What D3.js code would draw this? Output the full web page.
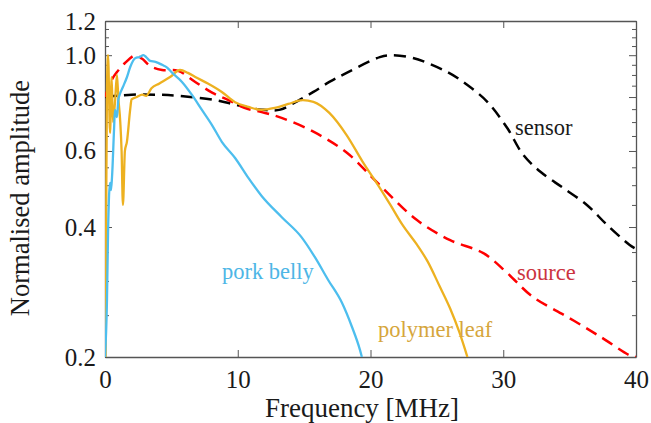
<!DOCTYPE html>
<html>
<head>
<meta charset="utf-8">
<script src="https://cdn.jsdelivr.net/npm/d3@7"></script>
<style>
  html, body { margin: 0; padding: 0; background: #fff; }
  svg { display: block; }
</style>
</head>
<body>
<svg id="chart" width="651" height="423"></svg>
<script>
// ---- data ----
const xTicks = [0, 10, 20, 30, 40];
const yTicks = [0.2, 0.4, 0.6, 0.8, 1.0, 1.2];
const yTickLabels = ["0.2", "0.4", "0.6", "0.8", "1.0", "1.2"];
const yMinorTicks = [0.25, 0.3, 0.35, 0.45, 0.5, 0.55, 0.65, 0.7, 0.75, 0.85, 0.9, 0.95, 1.05, 1.1, 1.15];

const sensorF = [0, 2, 4, 5.6, 8.3, 10.0, 11.8, 13.2, 14.5, 15.7, 16.9, 18.2, 20.7, 21.5, 23.2, 25.8, 27.3, 28.8, 30.3, 31.5, 32.8, 34.5, 36.3, 37.8, 39.5, 40];
const sensorA = [0.80, 0.81, 0.81, 0.805, 0.787, 0.766, 0.748, 0.748, 0.783, 0.822, 0.867, 0.910, 0.990, 1.0, 0.985, 0.914, 0.853, 0.78, 0.678, 0.588, 0.537, 0.493, 0.45, 0.405, 0.364, 0.356];

const sourceF = [0, 0.5, 0.9, 1.5, 2.3, 2.8, 3.4, 4.3, 5.5, 6.8, 8.1, 9.3, 10.5, 11.8, 13.3, 15.7, 18.2, 20.7, 23.5, 26.0, 28.5, 30.3, 32.2, 34.8, 37.3, 39.5, 40];
const sourceA = [0.80, 0.876, 0.914, 0.959, 1.0, 0.981, 0.944, 0.924, 0.920, 0.867, 0.818, 0.787, 0.755, 0.738, 0.716, 0.665, 0.595, 0.50, 0.415, 0.373, 0.348, 0.313, 0.276, 0.248, 0.223, 0.202, 0.2];

const porkF = [0, 0.15, 0.23, 0.38, 0.45, 0.53, 0.68, 0.75, 0.9, 1.0, 1.1, 1.35, 1.65, 1.9, 2.3, 2.6, 2.9, 3.1, 3.4, 3.8, 4.3, 4.7, 5.0, 5.8, 6.55, 7.3, 8.06, 8.8, 9.8, 10.8, 11.8, 13.3, 14.8, 15.8, 16.8, 17.85, 18.6, 19.2, 19.35];
const porkA = [0.2, 0.272, 0.388, 0.506, 0.487, 0.523, 0.671, 0.747, 0.719, 0.787, 0.809, 0.844, 0.889, 0.939, 0.985, 0.99, 1.0, 0.99, 0.97, 0.965, 0.95, 0.935, 0.914, 0.867, 0.809, 0.747, 0.689, 0.63, 0.578, 0.52, 0.472, 0.422, 0.379, 0.341, 0.302, 0.267, 0.235, 0.208, 0.2];

const leafF = [0.05, 0.1, 0.15, 0.23, 0.38, 0.5, 0.6, 0.75, 0.9, 1.0, 1.15, 1.25, 1.35, 1.5, 1.65, 1.9, 2.0, 2.4, 2.8, 3.1, 3.5, 4.1, 4.9, 5.65, 6.25, 6.8, 7.75, 8.8, 9.8, 10.8, 11.8, 12.8, 13.8, 14.9, 15.7, 16.9, 18.2, 19.4, 20.7, 21.5, 22.4, 23.5, 24.3, 25.2, 26.0, 26.7, 27.3];
const leafA = [0.2, 0.5, 0.85, 1.0, 0.661, 0.89, 0.70, 0.775, 0.90, 0.80, 0.70, 0.60, 0.45, 0.60, 0.63, 0.75, 0.79, 0.80, 0.81, 0.805, 0.838, 0.86, 0.89, 0.924, 0.91, 0.89, 0.86, 0.822, 0.778, 0.759, 0.747, 0.755, 0.771, 0.787, 0.780, 0.735, 0.653, 0.567, 0.493, 0.45, 0.405, 0.364, 0.333, 0.292, 0.259, 0.228, 0.2];

const seriesNames = ["sensor", "source", "polymer leaf", "pork belly"];

// ---- layout ----
const FONT = '"Liberation Serif", Tinos, "Times New Roman", Times, serif';
const svg = d3.select("#chart").style("font-family", FONT);
const L = 105, R = 636, T = 21, B = 357;
const x = d3.scaleLinear().domain([0, 40]).range([L, R]);
const y = d3.scaleLog().domain([0.2, 1.2]).range([B, T]);

const axisColor = "#555";

svg.append("defs").append("clipPath").attr("id", "clip")
  .append("rect").attr("x", L).attr("y", T).attr("width", R - L).attr("height", B - T);

const fmtY = (d) => yTickLabels[yTicks.indexOf(d)];
const gB = svg.append("g").attr("transform", `translate(0,${B})`)
  .call(d3.axisBottom(x).tickValues(xTicks).tickSize(-7).tickSizeOuter(0).tickPadding(13).tickFormat(d3.format("d")));
const gT = svg.append("g").attr("transform", `translate(0,${T})`)
  .call(d3.axisTop(x).tickValues(xTicks).tickSize(-7).tickSizeOuter(0).tickFormat(""));
const gL = svg.append("g").attr("transform", `translate(${L},0)`)
  .call(d3.axisLeft(y).tickValues(yTicks).tickSize(-7).tickSizeOuter(0).tickPadding(9).tickFormat(fmtY));
const gR = svg.append("g").attr("transform", `translate(${R},0)`)
  .call(d3.axisRight(y).tickValues(yTicks).tickSize(-7).tickSizeOuter(0).tickFormat(""));
const gLm = svg.append("g").attr("transform", `translate(${L},0)`)
  .call(d3.axisLeft(y).tickValues(yMinorTicks).tickSize(-4).tickFormat(""));
const gRm = svg.append("g").attr("transform", `translate(${R},0)`)
  .call(d3.axisRight(y).tickValues(yMinorTicks).tickSize(-4).tickFormat(""));

[gB, gT, gL, gR, gLm, gRm].forEach(g => {
  g.attr("font-family", FONT).attr("font-size", 25);
  g.selectAll(".domain").attr("stroke", axisColor).attr("stroke-width", 1.3);
  g.selectAll(".tick line").attr("stroke", axisColor).attr("stroke-width", 1);
  g.selectAll("text").attr("fill", "#1a1a1a");
});
[gLm, gRm].forEach(g => g.select(".domain").remove());

const smooth = d3.line().x(d => x(d[0])).y(d => y(d[1])).curve(d3.curveCatmullRom.alpha(0.5));
const mono = d3.line().x(d => x(d[0])).y(d => y(d[1])).curve(d3.curveMonotoneX);
const plot = svg.append("g").attr("clip-path", "url(#clip)");

const zipS = (f, a) => f.map((v, i) => [v, a[i]]);

plot.append("path").datum(zipS(sensorF, sensorA)).attr("d", smooth)
  .attr("fill", "none").attr("stroke", "#000").attr("stroke-width", 2.5).attr("stroke-dasharray", "12,7");
plot.append("path").datum(zipS(sourceF, sourceA)).attr("d", smooth)
  .attr("fill", "none").attr("stroke", "#ff0000").attr("stroke-width", 2.5).attr("stroke-dasharray", "12,7");
plot.append("path").datum(zipS(leafF, leafA)).attr("d", mono)
  .attr("fill", "none").attr("stroke", "#EDB120").attr("stroke-width", 2.3).attr("stroke-linejoin", "round");
plot.append("path").datum(zipS(porkF, porkA)).attr("d", mono)
  .attr("fill", "none").attr("stroke", "#4DBEEE").attr("stroke-width", 2.3).attr("stroke-linejoin", "round");

const ann = [
  { t: seriesNames[0], x: 515, y: 135, c: "#1a1a1a" },
  { t: seriesNames[1], x: 517, y: 280, c: "#CC3340" },
  { t: seriesNames[2], x: 378, y: 337, c: "#D6A63C" },
  { t: seriesNames[3], x: 222, y: 279, c: "#4DB6E6" }
];
svg.selectAll("text.ann").data(ann).enter().append("text")
  .attr("class", "ann").attr("x", d => d.x).attr("y", d => d.y)
  .attr("fill", d => d.c).attr("font-size", 22.5).text(d => d.t);

svg.append("text").attr("x", 362).attr("y", 417).attr("text-anchor", "middle")
  .attr("fill", "#1a1a1a").attr("font-size", 27).text("Frequency [MHz]");
svg.append("text").attr("transform", "translate(29,198) rotate(-90)").attr("text-anchor", "middle")
  .attr("fill", "#1a1a1a").attr("font-size", 26.5).text("Normalised amplitude");
</script>
</body>
</html>
